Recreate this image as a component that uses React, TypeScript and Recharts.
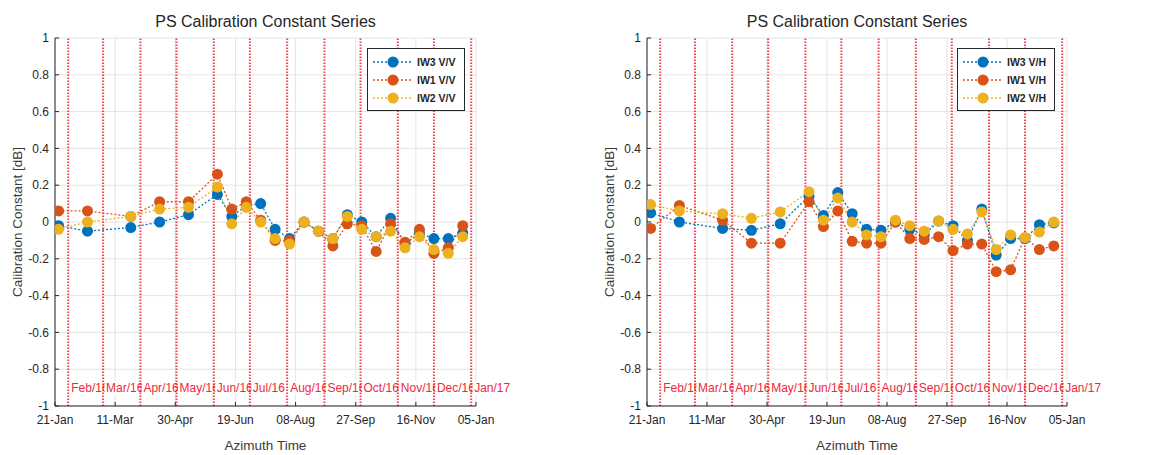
import React from "react"
import {
  LineChart,
  Line,
  XAxis,
  YAxis,
  CartesianGrid,
  ReferenceLine,
  Legend,
} from "recharts"

const START = Date.UTC(2016, 0, 21)
const DAY = 86400000
const dayOf = (iso: string) => (Date.parse(iso) - START) / DAY

// Sentinel-1 acquisitions (12-day repeat)
const acquisitionDates = [
  "2016-01-24", "2016-02-17", "2016-03-24", "2016-04-17", "2016-05-11",
  "2016-06-04", "2016-06-16", "2016-06-28", "2016-07-10", "2016-07-22",
  "2016-08-03", "2016-08-15", "2016-08-27", "2016-09-08", "2016-09-20",
  "2016-10-02", "2016-10-14", "2016-10-26", "2016-11-07", "2016-11-19",
  "2016-12-01", "2016-12-13", "2016-12-25",
]

const tickDates = [
  "2016-01-21", "2016-03-11", "2016-04-30", "2016-06-19",
  "2016-08-08", "2016-09-27", "2016-11-16", "2017-01-05",
]
const tickLabels = ["21-Jan", "11-Mar", "30-Apr", "19-Jun", "08-Aug", "27-Sep", "16-Nov", "05-Jan"]

const monthDates = [
  "2016-02-01", "2016-03-01", "2016-04-01", "2016-05-01", "2016-06-01", "2016-07-01",
  "2016-08-01", "2016-09-01", "2016-10-01", "2016-11-01", "2016-12-01", "2017-01-01",
]
const monthLabels = [
  "Feb/16", "Mar/16", "Apr/16", "May/16", "Jun/16", "Jul/16",
  "Aug/16", "Sep/16", "Oct/16", "Nov/16", "Dec/16", "Jan/17",
]

const yTicks = [-1, -0.8, -0.6, -0.4, -0.2, 0, 0.2, 0.4, 0.6, 0.8, 1]

// V/V calibration constants [dB]
const vvIW3 = [-0.02, -0.05, -0.03, 0.0, 0.04, 0.15, 0.03, 0.09, 0.1, -0.04, -0.09, 0.0, -0.05, -0.09, 0.04, 0.0, -0.08, 0.02, -0.12, -0.06, -0.09, -0.09, -0.06]
const vvIW1 = [0.06, 0.06, 0.03, 0.11, 0.11, 0.26, 0.07, 0.11, 0.01, -0.1, -0.1, 0.0, -0.05, -0.13, -0.01, -0.02, -0.16, -0.01, -0.11, -0.04, -0.17, -0.14, -0.02]
const vvIW2 = [-0.04, 0.0, 0.03, 0.07, 0.08, 0.19, -0.01, 0.08, 0.0, -0.09, -0.12, 0.0, -0.05, -0.09, 0.03, -0.04, -0.08, -0.05, -0.14, -0.08, -0.15, -0.17, -0.08]

// V/H calibration constants [dB]
const vhIW3 = [0.05, 0.0, -0.035, -0.045, -0.01, 0.14, 0.035, 0.16, 0.045, -0.04, -0.045, 0.0, -0.04, -0.07, 0.005, -0.02, -0.1, 0.07, -0.18, -0.09, -0.09, -0.015, -0.005]
const vhIW1 = [-0.035, 0.09, 0.01, -0.115, -0.115, 0.11, -0.025, 0.06, -0.105, -0.115, -0.115, 0.0, -0.09, -0.095, -0.08, -0.155, -0.12, -0.12, -0.27, -0.26, -0.085, -0.15, -0.13]
const vhIW2 = [0.095, 0.06, 0.045, 0.02, 0.055, 0.165, 0.01, 0.13, 0.0, -0.07, -0.08, 0.01, -0.02, -0.05, 0.005, -0.04, -0.065, 0.055, -0.15, -0.07, -0.085, -0.055, 0.0]

const BLUE = "#0072BD"
const RED = "#D95319"
const YELLOW = "#EDB120"
const INK = "#262626"
const FONT = "'Liberation Sans', Arial, Helvetica, sans-serif"

const tickValues = tickDates.map(dayOf)

function buildRows(iw3: number[], iw1: number[], iw2: number[]) {
  return acquisitionDates.map((d, i) => ({ t: dayOf(d), iw3: iw3[i], iw1: iw1[i], iw2: iw2[i] }))
}

function MonthTag({ viewBox, text }: { viewBox: any; text: string }) {
  const x = viewBox.x + 1.5
  const y = viewBox.y + viewBox.height * 0.95
  return (
    <g>
      <rect x={x} y={y - 7} width={40} height={14} fill="#fff" />
      <text x={x + 1.5} y={y} dominantBaseline="central" fontSize={12} fill="#f0283a" fontFamily={FONT}>
        {text}
      </text>
    </g>
  )
}

interface PanelProps {
  left: number
  width: number
  marginLeft: number
  marginRight: number
  pol: string
  iw3: number[]
  iw1: number[]
  iw2: number[]
  legendLeft: number
}

function Panel({ left, width, marginLeft, marginRight, pol, iw3, iw1, iw2, legendLeft }: PanelProps) {
  const data = buildRows(iw3, iw1, iw2)
  const series = [
    { key: "iw3", name: `IW3 ${pol}`, color: BLUE },
    { key: "iw1", name: `IW1 ${pol}`, color: RED },
    { key: "iw2", name: `IW2 ${pol}`, color: YELLOW },
  ]
  const plotLeft = marginLeft + 40
  const plotWidth = width - plotLeft - marginRight

  return (
    <div style={{ position: "absolute", left, top: 0, width, height: 455 }}>
      <div
        style={{
          position: "absolute",
          left: plotLeft - 20,
          width: plotWidth + 40,
          top: 12,
          textAlign: "center",
          fontFamily: FONT,
          fontSize: 16,
          lineHeight: "20px",
          color: INK,
        }}
      >
        PS Calibration Constant Series
      </div>
      <LineChart
        width={width}
        height={455}
        data={data}
        margin={{ top: 38, right: marginRight, bottom: 19, left: marginLeft }}
      >
        <CartesianGrid stroke="#e4e4e4" strokeWidth={1} />
        <XAxis
          type="number"
          dataKey="t"
          domain={[0, 350]}
          ticks={tickValues}
          allowDataOverflow
          height={30}
          tickFormatter={(v: number) => tickLabels[tickValues.indexOf(v)] ?? ""}
          tick={{ fontSize: 12, fill: INK, fontFamily: FONT }}
          stroke={INK}
          tickSize={-4}
          tickMargin={13}
          label={(p: any) => (
            <text
              x={p.viewBox.x + p.viewBox.width / 2}
              y={p.viewBox.y + 39}
              textAnchor="middle"
              dominantBaseline="central"
              fontSize={13.5}
              fill="#3a3a3a"
              fontFamily={FONT}
            >
              Azimuth Time
            </text>
          )}
        />
        <YAxis
          type="number"
          domain={[-1, 1]}
          ticks={yTicks}
          width={40}
          tickFormatter={(v: number) => String(Math.round(v * 10) / 10)}
          tick={{ fontSize: 12, fill: INK, fontFamily: FONT }}
          stroke={INK}
          tickSize={-4}
          tickMargin={10}
          label={(p: any) => (
            <text
              transform={`translate(${p.viewBox.x + p.viewBox.width - 38}, ${p.viewBox.y + p.viewBox.height / 2}) rotate(-90)`}
              textAnchor="middle"
              dominantBaseline="central"
              fontSize={13.5}
              fill="#3a3a3a"
              fontFamily={FONT}
            >
              Calibration Constant [dB]
            </text>
          )}
        />
        {monthDates.map((d, i) => (
          <ReferenceLine
            key={d}
            x={dayOf(d)}
            stroke="#f2202e"
            strokeOpacity={0.85}
            strokeWidth={2}
            strokeDasharray="1.6 1.4"
            ifOverflow="visible"
            label={(p: any) => <MonthTag viewBox={p.viewBox} text={monthLabels[i]} />}
          />
        ))}
        {series.map((s) => (
          <Line
            key={s.key}
            type="linear"
            dataKey={s.key}
            name={s.name}
            stroke={s.color}
            strokeWidth={1.3}
            strokeDasharray="2 2"
            dot={{ r: 5.5, fill: s.color, stroke: s.color, strokeWidth: 0 }}
            activeDot={false}
            isAnimationActive={false}
          />
        ))}
        <Legend
          layout="vertical"
          align="center"
          verticalAlign="middle"
          wrapperStyle={{ left: legendLeft, top: 48, width: 98 }}
          content={() => (
            <div
              style={{
                border: `1px solid ${INK}`,
                background: "#fff",
                padding: "4px 3px 3px 4px",
                boxSizing: "border-box",
                width: 98,
              }}
            >
              {series.map((s) => (
                <div key={s.key} style={{ display: "flex", alignItems: "center", height: 18 }}>
                  <svg width={42} height={14}>
                    <line x1={1} y1={7} x2={41} y2={7} stroke={s.color} strokeWidth={1.3} strokeDasharray="2 2" />
                    <circle cx={21} cy={7} r={5.5} fill={s.color} />
                  </svg>
                  <span
                    style={{
                      marginLeft: 3,
                      fontFamily: FONT,
                      fontSize: 10.5,
                      fontWeight: "bold",
                      color: INK,
                      whiteSpace: "nowrap",
                    }}
                  >
                    {s.name}
                  </span>
                </div>
              ))}
            </div>
          )}
        />
      </LineChart>
    </div>
  )
}

export default function App() {
  return (
    <div style={{ position: "absolute", left: 0, top: 0, width: 1161, height: 455, background: "#fff" }}>
      <Panel left={0} width={580} marginLeft={15} marginRight={104} pol="V/V" iw3={vvIW3} iw1={vvIW1} iw2={vvIW2} legendLeft={367} />
      <Panel left={580} width={581} marginLeft={27} marginRight={94} pol="V/H" iw3={vhIW3} iw1={vhIW1} iw2={vhIW2} legendLeft={377} />
    </div>
  )
}
